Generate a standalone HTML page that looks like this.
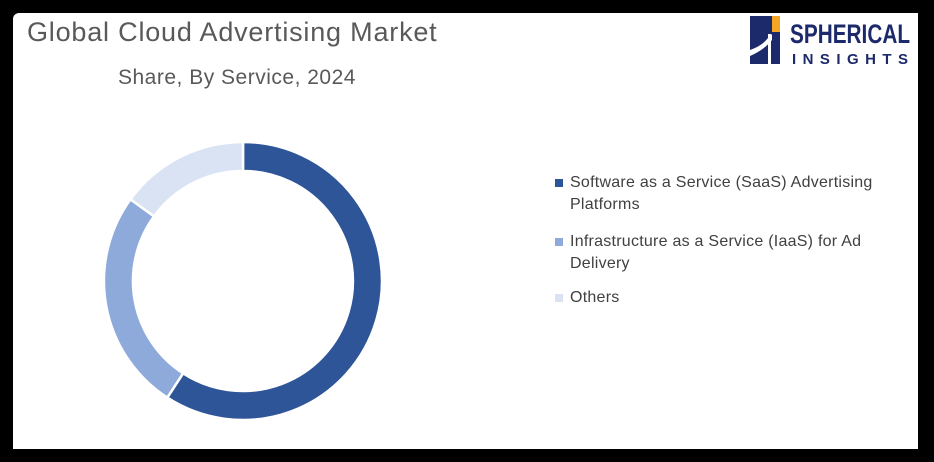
<!DOCTYPE html>
<html><head><style>
body{margin:0;width:934px;height:462px;background:#000;overflow:hidden;font-family:"Liberation Sans","DejaVu Sans",sans-serif}
.card{position:absolute;left:13px;top:13px;width:905px;height:436px;background:#fff;border-top-left-radius:6px}
.t{position:absolute;color:#595959}
.leg{position:absolute;left:555px;font-size:16px;color:#404040;line-height:22px;letter-spacing:0.25px}
.sq{position:absolute;left:0;top:7px;width:8px;height:8px}
</style></head><body>
<div class="card"></div>
<div class="t" style="left:27px;top:17px;font-size:27px;letter-spacing:0.8px">Global Cloud Advertising Market</div>
<div class="t" style="left:118px;top:66px;font-size:21px;letter-spacing:0.5px">Share, By Service, 2024</div>
<svg width="934" height="462" style="position:absolute;left:0;top:0">
<g transform="translate(243,281)" stroke="#fff" stroke-width="2.5">
<path d="M0,-139 A139,139 0 1 1 -75.7,116.6 L-59.9,92.3 A110,110 0 1 0 0,-110 Z" fill="#2e5597"/>
<path d="M-75.7,116.6 A139,139 0 0 1 -112.5,-81.7 L-89,-64.7 A110,110 0 0 0 -59.9,92.3 Z" fill="#8eaadb"/>
<path d="M-112.5,-81.7 A139,139 0 0 1 0,-139 L0,-110 A110,110 0 0 0 -89,-64.7 Z" fill="#dae3f3"/>
</g>
<rect x="750" y="16" width="30" height="48" fill="#1c2a6b"/>
<rect x="772" y="16" width="8" height="16" fill="#f5a623"/>
<path d="M750,50 Q762,46 768,38 L772,34 L772,40 Q764,50 750,56 Z" fill="#fff"/>
<rect x="768" y="34" width="3" height="30" fill="#fff"/>
<text x="790" y="43" font-family="Liberation Sans" font-weight="bold" font-size="27" fill="#1c2a6b" textLength="120" lengthAdjust="spacingAndGlyphs">SPHERICAL</text>
<text x="792" y="64" font-family="Liberation Sans" font-weight="bold" font-size="15" fill="#1c2a6b" textLength="116" lengthAdjust="spacing">INSIGHTS</text>
</svg>
<div class="leg" style="top:172px;padding-left:15px"><span class="sq" style="background:#2e5597"></span>Software as a Service (SaaS) Advertising<br>Platforms</div>
<div class="leg" style="top:231px;padding-left:15px"><span class="sq" style="background:#8eaadb"></span>Infrastructure as a Service (IaaS) for Ad<br>Delivery</div>
<div class="leg" style="top:287px;padding-left:15px"><span class="sq" style="background:#dae3f3"></span>Others</div>
</body></html>
